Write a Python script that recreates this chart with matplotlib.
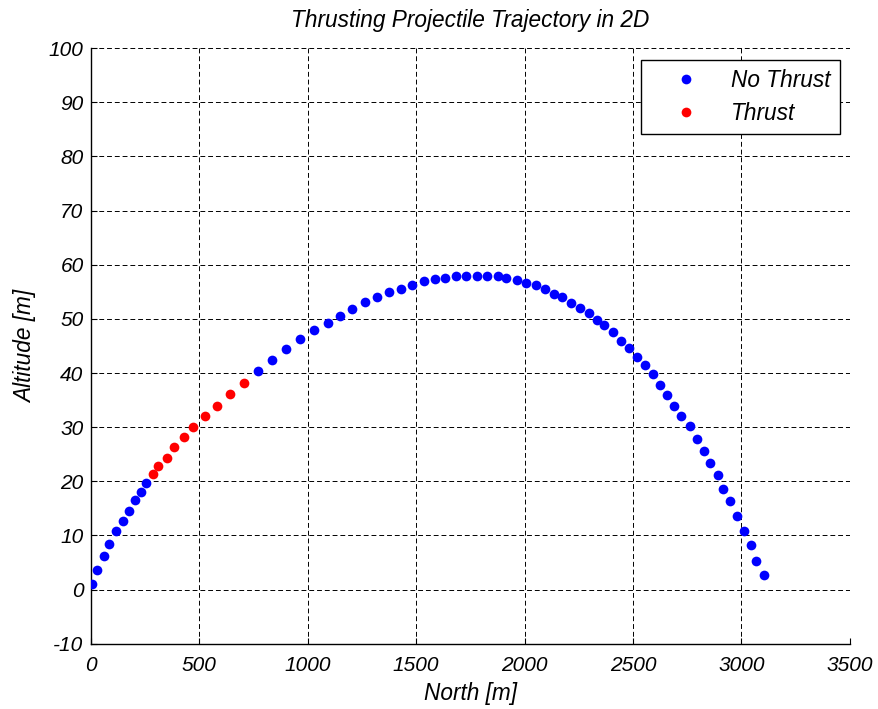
import matplotlib
matplotlib.use('Agg')
import matplotlib.pyplot as plt

plt.rcParams['font.family'] = ['Liberation Sans', 'DejaVu Sans']
plt.rcParams['font.style'] = 'italic'
plt.rcParams['axes.unicode_minus'] = False

# trajectory (North [m], Altitude [m])
north_pre = [5, 29, 62, 87, 119, 150, 176, 206, 231, 257]
alt_pre = [1.05, 3.7, 6.15, 8.5, 10.8, 12.7, 14.6, 16.5, 18.1, 19.75]

north_thrust = [288, 311, 352, 386, 432, 474, 529, 584, 643, 706]
alt_thrust = [21.4, 22.8, 24.4, 26.3, 28.2, 30.1, 32.1, 34.0, 36.2, 38.2]

north_post = [773, 836, 901, 965, 1030, 1093, 1150, 1206, 1263, 1319,
              1377, 1432, 1481, 1538, 1586, 1633, 1682, 1730, 1779, 1827,
              1876, 1916, 1964, 2005, 2052, 2093, 2134, 2175, 2215, 2255,
              2295, 2335, 2367, 2406, 2446, 2480, 2519, 2553, 2593, 2624,
              2656, 2688, 2722, 2762, 2793, 2827, 2857, 2891, 2915, 2946,
              2980, 3012, 3044, 3068, 3102]
alt_post = [40.4, 42.4, 44.4, 46.3, 47.9, 49.2, 50.5, 51.8, 53.1, 54.0,
            55.0, 55.6, 56.3, 57.0, 57.3, 57.6, 57.9, 57.9, 57.9, 57.9,
            57.9, 57.6, 57.2, 56.6, 56.25, 55.6, 54.6, 54.0, 53.0, 52.1,
            51.1, 49.8, 48.9, 47.6, 46.0, 44.6, 43.0, 41.4, 39.8, 37.8,
            35.9, 34.0, 32.1, 30.15, 27.9, 25.6, 23.4, 21.1, 18.5, 16.3,
            13.6, 10.8, 8.2, 5.3, 2.7]

fig = plt.figure(figsize=(8.79, 7.09), dpi=100)
ax = fig.add_axes([0.103, 0.092, 0.864, 0.840])

ms = 7
ax.plot(north_pre + north_post, alt_pre + alt_post, 'o', color='#0000ff',
        markersize=ms, markeredgewidth=0, label='No Thrust', zorder=3)
ax.plot(north_thrust, alt_thrust, 'o', color='#ff0000',
        markersize=ms, markeredgewidth=0, label='Thrust', zorder=3)

ax.set_xlim(0, 3500)
ax.set_ylim(-10, 100)
ax.set_xticks(range(0, 3501, 500))
ax.set_yticks(range(-10, 101, 10))
ax.grid(True, color='k', linestyle=(0, (5, 3)), linewidth=0.7)
ax.spines['top'].set_visible(False)
ax.spines['right'].set_visible(False)
ax.spines['left'].set_linewidth(1.0)
ax.spines['bottom'].set_linewidth(1.0)
ax.tick_params(direction='in', length=4, labelsize=15)
ax.tick_params(axis='x', pad=9)
ax.tick_params(axis='y', pad=5)

ax.set_title('Thrusting Projectile Trajectory in 2D', fontsize=16.3, pad=15)
ax.set_xlabel('North [m]', fontsize=16.3, labelpad=5)
ax.set_ylabel('Altitude [m]', fontsize=16.3, labelpad=8)

leg = ax.legend(loc='upper right', fontsize=16.3, frameon=True, fancybox=False,
                edgecolor='k', framealpha=1, borderpad=0.41, handletextpad=0.46,
                handlelength=3.1, labelspacing=0.43, borderaxespad=0,
                bbox_to_anchor=(0.987, 0.980))
leg.get_frame().set_linewidth(1.0)

plt.savefig('out.png', dpi=100)
